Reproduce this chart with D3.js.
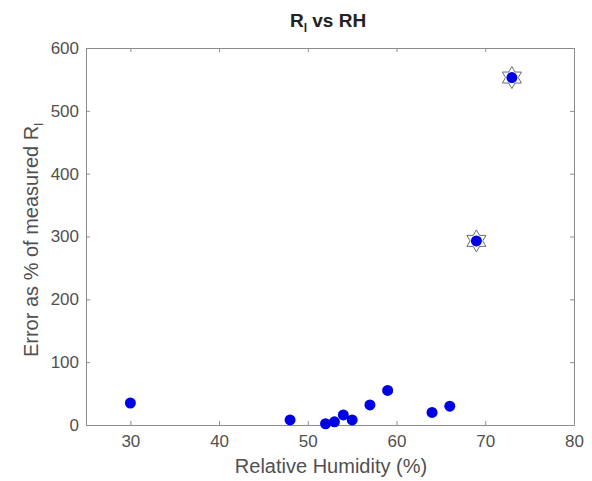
<!DOCTYPE html>
<html><head><meta charset="utf-8">
<script src="https://cdn.jsdelivr.net/npm/d3@7"></script>
<style>body{margin:0;background:#fff}svg{font-family:"Liberation Sans",Arial,sans-serif}</style>
</head><body>
<svg id="c" width="592" height="481"></svg>
<script>
const rh = [30, 48, 52, 53, 54, 55, 57, 59, 64, 66, 69, 73];
const err = [35, 8, 2, 5, 16, 8, 32, 55, 20, 30, 293, 553];
const highlightRh = [69, 73];
const highlightErr = [293, 553];
const xTicks = [30, 40, 50, 60, 70, 80];
const yTicks = [0, 100, 200, 300, 400, 500, 600];

const svg = d3.select("#c");
const m = {l: 86, r: 18, t: 48, b: 56};
const W = 592, H = 481;
const x = d3.scaleLinear().domain([25, 80]).range([m.l, W - m.r]);
const y = d3.scaleLinear().domain([0, 600]).range([H - m.b, m.t]);
const axCol = "#8c8c8c", txtCol = "#505050";

function styleAx(g){
  g.select(".domain").attr("stroke", axCol);
  g.selectAll(".tick line").attr("stroke", axCol);
  g.selectAll(".tick text").attr("fill", txtCol).style("font-size", "17px");
}
svg.append("g").attr("transform", `translate(0,${H - m.b})`)
  .call(d3.axisBottom(x).tickValues(xTicks).tickSizeInner(-4).tickSizeOuter(0).tickPadding(10)).call(styleAx);
svg.append("g").attr("transform", `translate(${m.l},0)`)
  .call(d3.axisLeft(y).tickValues(yTicks).tickSizeInner(-4).tickSizeOuter(0).tickPadding(7)).call(styleAx);
svg.append("g").attr("transform", `translate(0,${m.t})`)
  .call(d3.axisTop(x).tickValues(xTicks).tickSizeInner(-4).tickSizeOuter(0).tickFormat("")).call(styleAx);
svg.append("g").attr("transform", `translate(${W - m.r},0)`)
  .call(d3.axisRight(y).tickValues(yTicks).tickSizeInner(-4).tickSizeOuter(0).tickFormat("")).call(styleAx);

// hexagram markers
const star = d3.symbol().type({draw(ctx, size){
  const R = Math.sqrt(size), r = R / Math.sqrt(3);
  for (let i = 0; i < 12; i++) {
    const a = -Math.PI/2 + i * Math.PI/6;
    const rr = i % 2 === 0 ? R : r;
    if (i === 0) ctx.moveTo(rr*Math.cos(a), rr*Math.sin(a)); else ctx.lineTo(rr*Math.cos(a), rr*Math.sin(a));
  }
  ctx.closePath();
}}).size(121);
svg.append("g").selectAll("path").data(highlightRh).join("path")
  .attr("d", star)
  .attr("transform", (d, i) => `translate(${x(d)},${y(highlightErr[i])})`)
  .attr("fill", "none").attr("stroke", "#6a6a7a").attr("stroke-width", 1);

svg.append("g").selectAll("circle").data(rh).join("circle")
  .attr("cx", d => x(d)).attr("cy", (d, i) => y(err[i])).attr("r", 5.5)
  .attr("fill", "#0000e6");

// title
const t = svg.append("text").attr("x", 328).attr("y", 27)
  .attr("text-anchor", "middle").attr("font-weight", "bold").attr("font-size", 19).attr("fill", "#222");
t.append("tspan").text("R");
t.append("tspan").text("l").attr("font-size", 12).attr("dy", 5);
t.append("tspan").text(" vs RH").attr("dy", -5);

svg.append("text").attr("x", 331).attr("y", 473)
  .attr("text-anchor", "middle").attr("font-size", 20).attr("fill", txtCol).text("Relative Humidity (%)");

const yl = svg.append("text").attr("transform", `translate(38,240) rotate(-90)`)
  .attr("text-anchor", "middle").attr("font-size", 20).attr("fill", txtCol);
yl.append("tspan").text("Error as % of measured R");
yl.append("tspan").text("l").attr("font-size", 13).attr("dy", 5);
</script>
</body></html>
